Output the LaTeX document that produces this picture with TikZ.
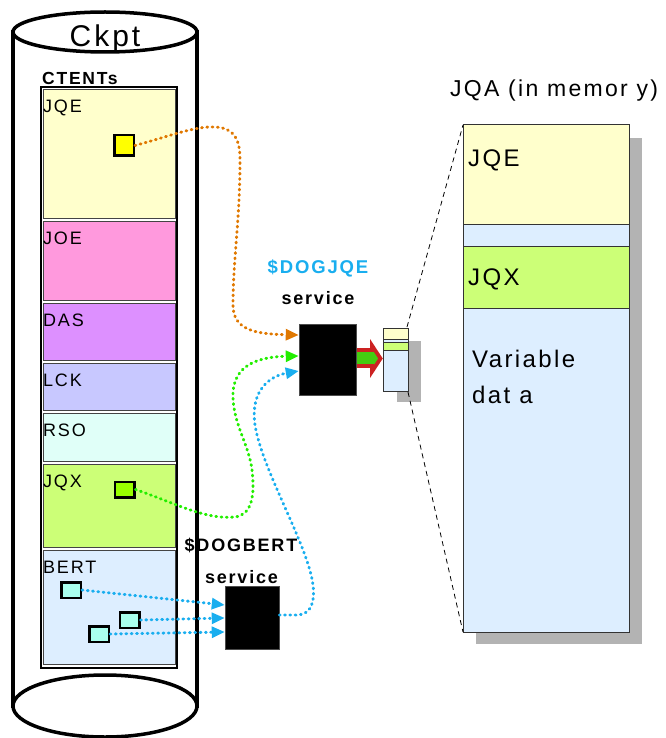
\documentclass[tikz,border=0pt]{standalone}
\usepackage{fontspec}
\setmainfont{Liberation Sans}[LetterSpace=10]
\usetikzlibrary{arrows.meta,calc}
\definecolor{cJQE}{HTML}{FFFFCC}
\definecolor{cJOE}{HTML}{FF99DD}
\definecolor{cDAS}{HTML}{DD90FF}
\definecolor{cLCK}{HTML}{C8C8FF}
\definecolor{cRSO}{HTML}{E0FFF8}
\definecolor{cJQX}{HTML}{CCFF77}
\definecolor{cBERT}{HTML}{DDEEFF}
\definecolor{sqJQE}{HTML}{FFFF00}
\definecolor{sqJQX}{HTML}{99FF00}
\definecolor{sqBERT}{HTML}{AAFFEE}
\definecolor{corange}{HTML}{E07800}
\definecolor{cgreen}{HTML}{22EE00}
\definecolor{cblue}{HTML}{19AEEF}
\definecolor{cred}{HTML}{CC2222}
\definecolor{cfat}{HTML}{44CC11}
\definecolor{shadowgray}{HTML}{B3B3B3}
\definecolor{segborder}{HTML}{444444}
\begin{document}
\begin{tikzpicture}[x=1pt,y=-1pt,
  cyl/.style={line width=3.5pt},
  seg/.style={draw=segborder, line width=1pt},
  seglbl/.style={anchor=base west, inner sep=0pt, font=\fontsize{18}{18}\selectfont},
  biglbl/.style={anchor=base west, inner sep=0pt, font=\fontsize{24}{24}\selectfont},
  sq/.style={draw=black, line width=2.5pt, inner sep=0pt, minimum width=19.5pt, minimum height=15.5pt},
  svc/.style={fill=black, draw=black!70, line width=0.5pt, inner sep=0pt},
  dotline/.style={line width=2.9pt, dash pattern=on 0.9pt off 4.4pt, line cap=round},
  tip/.style={-{Triangle[length=13pt,width=11pt]}},
  memline/.style={draw=black!80, line width=1pt},
  zoomline/.style={line width=0.8pt, dash pattern=on 5pt off 4pt}
]
\useasboundingbox (0,0) rectangle (665,738);

% cylinder
\draw[cyl, fill=white] (13,32) rectangle (197,706);
\draw[cyl, fill=white] (105,706) ellipse [x radius=92, y radius=31];
\draw[cyl, fill=white] (105,32) ellipse [x radius=92, y radius=20];
\node[anchor=base, inner sep=0pt, font=\fontsize{30}{30}\selectfont] (ckpt) at (105,47) {Ckpt};

% CTENTs frame
\node[anchor=base west, inner sep=0pt, font=\bfseries\fontsize{17.5}{17.5}\selectfont] (ctents) at (42,85) {CTENTs};
\draw[line width=2pt] (41,87) rectangle (177,668);
\draw[seg, fill=cJQE]  (43,90)  rectangle (175,218);
\draw[seg, fill=cJOE]  (43,221) rectangle (175,300);
\draw[seg, fill=cDAS]  (43,303) rectangle (175,360);
\draw[seg, fill=cLCK]  (43,363) rectangle (175,410);
\draw[seg, fill=cRSO]  (43,413) rectangle (175,461);
\draw[seg, fill=cJQX]  (43,464) rectangle (175,547);
\draw[seg, fill=cBERT] (43,550) rectangle (175,664);
\node[seglbl] (lJQE)  at (43,113) {JQE};
\node[seglbl] (lJOE)  at (43,244) {JOE};
\node[seglbl] (lDAS)  at (43,326) {DAS};
\node[seglbl] (lLCK)  at (43,386) {LCK};
\node[seglbl] (lRSO)  at (43,436) {RSO};
\node[seglbl] (lJQX)  at (43,487) {JQX};
\node[seglbl] (lBERT) at (43,573) {BERT};

% pointer squares
\node[sq, fill=sqJQE, minimum height=20.5pt] (jqesq) at (124,145.5) {};
\node[sq, fill=sqJQX] (jqxsq) at (124.5,489.5) {};
\node[sq, fill=sqBERT] (b1) at (71,590) {};
\node[sq, fill=sqBERT] (b2) at (129.5,620) {};
\node[sq, fill=sqBERT] (b3) at (99,634) {};

% JQA in memory
\node[anchor=base west, inner sep=0pt, font=\fontsize{23}{23}\selectfont] (jqatitle) at (450,97) {JQA (in memor y)};
\fill[shadowgray] (476,138) rectangle (642,644);
\draw[memline, fill=cJQE]  (463,125) rectangle (629,224);
\draw[memline, fill=cBERT] (463,224) rectangle (629,246);
\draw[memline, fill=cJQX]  (463,246) rectangle (629,308);
\draw[memline, fill=cBERT] (463,308) rectangle (629,632);
\node[biglbl] (mJQE) at (468,167) {JQE};
\node[biglbl] (mJQX) at (468,285) {JQX};
\node[biglbl] (mvar) at (472,367) {Variable};
\node[biglbl] (mdata) at (472,403) {dat a};

% mini JQA
\fill[shadowgray] (397,341) rectangle (421,402);
\draw[memline, fill=cJQE]  (383,328) rectangle (408,339);
\draw[memline, fill=cBERT] (383,339) rectangle (408,342);
\draw[memline, fill=cJQX]  (383,342) rectangle (408,350);
\draw[memline, fill=cBERT] (383,350) rectangle (408,391);
\coordinate (miniNE) at (407,327);
\coordinate (miniSE) at (408,392);
\coordinate (bigNW) at (463,125);
\coordinate (bigSW) at (463,632);
\draw[zoomline] (miniNE) -- (bigNW);
\draw[zoomline] (miniSE) -- (bigSW);

% fat arrow
\draw[draw=cred, fill=cfat, line width=3.8pt, line join=miter]
  (352,350) -- (372,350) -- (372,345.5) -- (380.5,358.5) -- (372,371.5) -- (372,366) -- (352,366) -- cycle;

% service boxes
\node[svc, minimum width=57pt, minimum height=71pt] (dogjqe) at (327.5,359.5) {};
\node[svc, minimum width=54pt, minimum height=63pt] (dogbert) at (252,617.5) {};
\node[anchor=base, inner sep=0pt, text=cblue, font=\bfseries\fontsize{18.5}{18.5}\selectfont] (tdogjqe) at (318,273) {\$DOGJQE};
\node[anchor=base, inner sep=0pt, font=\bfseries\fontsize{18}{18}\selectfont] (tsvc1) at (318,304) {service};
\node[anchor=base, inner sep=0pt, font=\bfseries\fontsize{18}{18}\selectfont] (tdogbert) at (241,551) {\$DOGBERT};
\node[anchor=base, inner sep=0pt, font=\bfseries\fontsize{18}{18}\selectfont] (tsvc2) at (241.5,583) {service};

% connectors
\draw[dotline, corange, tip] (jqesq.east) .. controls (170,136) and (195,126) .. (215,127)
  .. controls (235,128) and (240,140) .. (240,160)
  .. controls (240,220) and (233,260) .. (233,305)
  .. controls (233,330) and (255,334) .. ([yshift=24.5pt]dogjqe.west);
\draw[dotline, cgreen, tip] (jqxsq.east) .. controls (175,503) and (205,520) .. (235,517)
  .. controls (252,515) and (255,495) .. (252,470)
  .. controls (249,445) and (234,425) .. (233,398)
  .. controls (232,370) and (250,357) .. ([yshift=3.5pt]dogjqe.west);
\draw[dotline, cblue, tip] ([yshift=2.5pt]dogbert.east) -- (298,615)
  .. controls (312,614) and (315,600) .. (313,585)
  .. controls (308,545) and (262,470) .. (255,425)
  .. controls (250,390) and (270,376) .. ([yshift=-11.5pt]dogjqe.west);
\draw[dotline, cblue, tip] (b1.east) -- ([yshift=12.5pt]dogbert.west);
\draw[dotline, cblue, tip] (b2.east) -- ([yshift=-0.5pt]dogbert.west);
\draw[dotline, cblue, tip] (b3.east) -- ([yshift=-14.5pt]dogbert.west);
\end{tikzpicture}
\end{document}
